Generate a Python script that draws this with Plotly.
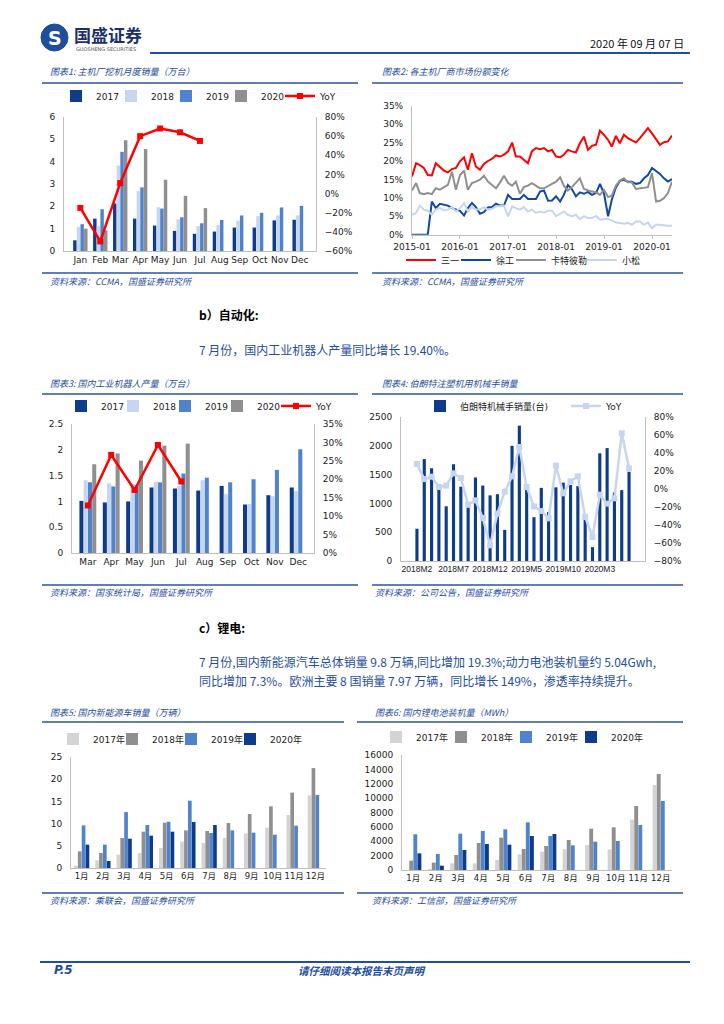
import plotly.graph_objects as go
import pandas as pd

# ---------------- data ----------------
# Chart 1: excavator monthly sales (10k units)
months_en = ["Jan", "Feb", "Mar", "Apr", "May", "Jun", "Jul", "Aug", "Sep", "Oct", "Nov", "Dec"]
exc_2017 = [0.48, 1.45, 2.13, 1.45, 1.14, 0.90, 0.77, 0.87, 1.05, 1.05, 1.37, 1.40]
exc_2018 = [1.08, 1.12, 3.84, 2.68, 1.96, 1.42, 1.12, 1.17, 1.36, 1.56, 1.59, 1.60]
exc_2019 = [1.20, 1.87, 4.44, 2.85, 1.90, 1.51, 1.24, 1.39, 1.59, 1.71, 1.95, 2.02]
exc_2020 = [1.00, 0.93, 4.96, 4.56, 3.19, 2.47, 1.92, None, None, None, None, None]
exc_yoy = [-15, -50, 11, 60, 68, 64, 55, None, None, None, None, None]

# Chart 2: market share (%) monthly 2015-01 .. 2020-06
share_dates = pd.date_range("2015-01-01", periods=66, freq="MS")
share_sany = [15.8, 19.4, 18.9, 18.1, 16.2, 16.1, 19.4, 18.5, 17.4, 16.9,
              17.8, 18.1, 19.9, 21.0, 17.6, 22.1, 18.5, 17.6, 19.2, 20.0,
              20.6, 21.5, 21.2, 21.7, 22.6, 25.0, 21.2, 21.2, 20.3, 19.4,
              22.6, 23.5, 23.2, 23.5, 22.6, 23.0, 21.2, 21.0, 21.7, 23.0,
              22.6, 22.3, 24.8, 26.6, 23.0, 24.1, 24.4, 28.2, 27.1, 25.7,
              23.9, 26.8, 24.8, 27.1, 26.2, 25.5, 25.0, 26.2, 27.5, 28.9,
              27.5, 26.0, 24.4, 25.1, 25.3, 26.9]
share_xcmg = [0, 0, 0, 0, 0, 9.0, 7.2, 8.4, 8.2, 7.9,
              7.2, 6.8, 6.5, 5.2, 7.2, 8.6, 7.5, 5.7, 6.1, 7.4,
              7.5, 8.4, 7.9, 7.9, 10.8, 9.7, 9.7, 9.7, 10.8, 9.7,
              9.7, 9.7, 11.7, 12.0, 9.2, 9.3, 10.4, 9.0, 10.8, 13.5,
              12.4, 10.4, 11.5, 11.1, 11.6, 10.8, 11.3, 13.8, 11.1, 5.0,
              9.5, 12.8, 14.6, 14.9, 14.4, 14.4, 13.8, 14.0, 15.3, 16.2,
              18.1, 17.3, 16.5, 15.3, 14.4, 15.1]
share_cat = [12.0, 14.0, 11.3, 11.0, 11.3, 11.0, 12.6, 12.2, 12.9, 13.5,
             17.1, 12.2, 16.2, 17.4, 12.2, 14.0, 14.4, 14.9, 16.0, 14.4,
             13.5, 12.6, 14.2, 16.0, 14.0, 13.3, 14.4, 11.1, 12.9, 13.3,
             14.0, 13.3, 12.6, 12.6, 13.1, 13.8, 14.4, 15.6, 13.3, 12.0,
             12.9, 14.0, 15.3, 12.4, 12.0, 11.7, 11.5, 10.8, 12.2, 10.2,
             10.6, 13.3, 14.7, 15.3, 14.2, 14.2, 12.4, 12.6, 12.9, 12.9,
             16.7, 9.0, 9.2, 9.9, 11.3, 14.4]
share_komatsu = [5.4, 5.9, 7.9, 6.8, 6.5, 5.4, 6.8, 7.2, 6.6, 6.8,
                 7.5, 6.3, 7.2, 8.6, 6.3, 7.5, 6.8, 6.9, 7.5, 6.8,
                 7.0, 7.7, 7.7, 7.9, 5.0, 7.7, 7.2, 6.8, 7.5, 6.3,
                 6.8, 5.9, 6.3, 6.0, 6.5, 6.5, 5.0, 5.7, 6.3, 5.4,
                 5.0, 5.4, 4.2, 5.0, 4.5, 4.5, 5.1, 4.1, 4.2, 4.3,
                 3.9, 3.3, 3.2, 3.0, 3.2, 2.7, 3.6, 3.6, 2.7, 3.3,
                 1.8, 2.7, 2.7, 2.5, 2.4, 2.4]

# Chart 3: industrial robot output (10k units)
rob_months = ["Mar", "Apr", "May", "Jun", "Jul", "Aug", "Sep", "Oct", "Nov", "Dec"]
rob_2017 = [1.01, 0.98, 1.00, 1.27, 1.25, 1.21, 1.30, 0.94, 1.12, 1.27]
rob_2018 = [1.41, 1.35, 1.34, 1.38, 1.30, 1.41, 1.14, 0.95, 1.10, 1.20]
rob_2019 = [1.37, 1.29, 1.32, 1.37, 1.54, 1.46, 1.37, 1.43, 1.61, 2.01]
rob_2020 = [1.72, 1.93, 1.79, 2.08, 2.12, None, None, None, None, None]
rob_yoy = [12.9, 26.6, 17.1, 29.3, 19.4, None, None, None, None, None]

# Chart 4: Borunte manipulator sales (units) and YoY
bl_months = ["2018M2", "2018M3", "2018M4", "2018M5", "2018M6", "2018M7", "2018M8", "2018M9",
             "2018M10", "2018M11", "2018M12", "2019M1", "2019M2", "2019M3", "2019M4", "2019M5",
             "2019M6", "2019M7", "2019M8", "2019M9", "2019M10", "2019M11", "2019M12", "2020M1",
             "2020M2", "2020M3", "2020M4", "2020M5", "2020M6", "2020M7"]
bl_sales = [560, 1770, 1610, 1320, 950, 1680, 1290, 930, 1450, 1310,
            1140, 1160, 540, 2000, 2350, 1330, 760, 1270, 850, 1280,
            1360, 1320, 1300, 720, 240, 1870, 1960, 1190, 1230, 1550]
bl_yoy = [27.8, 11.0, 13.7, 2.2, 3.7, 17.4, 12.2, -17.4, -12.6, -32.2,
          -62.6, -27.4, -3.0, 14.1, 46.7, 2.2, -19.3, -24.4, -32.6, 26.0,
          -4.8, 8.5, 14.1, -31.0, -53.3, -6.3, -16.3, -10.4, 61.9, 23.0]
bl_ticks = ["2018M2", "2018M7", "2018M12", "2019M5", "2019M10", "2020M3"]

# Chart 5: NEV sales (10k units)
cn_months = ["1月", "2月", "3月", "4月", "5月", "6月", "7月", "8月", "9月", "10月", "11月", "12月"]
nev_2017 = [0.53, 1.73, 3.00, 3.38, 4.50, 5.93, 5.63, 6.76, 7.80, 9.08, 11.94, 16.37]
nev_2018 = [3.75, 3.38, 6.76, 8.18, 10.20, 8.48, 8.33, 10.13, 12.16, 13.89, 16.97, 22.50]
nev_2019 = [9.60, 5.26, 12.60, 9.68, 10.43, 15.16, 7.88, 8.48, 7.96, 7.50, 9.53, 16.44]
nev_2020 = [5.26, 1.58, 6.60, 7.28, 8.18, 10.36, 9.68, None, None, None, None, None]

# Chart 6: battery installations (MWh)
bat_2017 = [0, 139, 928, 928, 1391, 2180, 2551, 2876, 3479, 2876, 7003, 11827]
bat_2018 = [1299, 1020, 2087, 3757, 4499, 2922, 3339, 4174, 5751, 5937, 8905, 13357]
bat_2019 = [4963, 2226, 5055, 5426, 5658, 6632, 4731, 3432, 3942, 4035, 6261, 9601]
bat_2020 = [2319, 603, 2783, 3618, 3525, 4731, 5009, None, None, None, None, None]

# ---------------- styling ----------------
W, H = 724, 1024
def px(x):
    return x / W
def py(y):
    return 1 - y / H

NAVY = "#0E3C8C"
LIGHT = "#C6D6EF"
MID = "#4F83CC"
GRAY = "#8F8F8F"
LGRAY = "#D3D3D3"
RED = "#FF0000"
TXTBLUE = "#1F4E9C"
LINEBLUE = "#2F5597"
AXC = "#BFBFBF"
FONT = "DejaVu Sans, Noto Sans CJK SC, sans-serif"
CJK = "Noto Sans CJK SC, DejaVu Sans, sans-serif"
TICKF = dict(family=FONT, size=9, color="#222")

fig = go.Figure()

def bar(x, y, name, color, xa, ya, leg, lw, **kw):
    fig.add_trace(go.Bar(x=x, y=y, name=name, marker=dict(color=color, line=dict(width=0)),
                         xaxis=xa, yaxis=ya, legend=leg, legendwidth=lw, **kw))

def yoy(x, y, color, xa, ya, leg):
    fig.add_trace(go.Scatter(x=x, y=y, name="YoY", mode="lines+markers",
                             line=dict(color=color, width=2.5),
                             marker=dict(symbol="square", size=6, color=color),
                             xaxis=xa, yaxis=ya, legend=leg, legendwidth=40))

# chart 1
for nm, vals, c, lw in [("2017", exc_2017, NAVY, 10), ("2018", exc_2018, LIGHT, 10),
                        ("2019", exc_2019, MID, 10), ("2020", exc_2020, GRAY, 14)]:
    bar(months_en, vals, nm, c, "x", "y", "legend", lw)
yoy(months_en, exc_yoy, RED, "x", "y2", "legend")

# chart 2
for nm, vals, c, lw in [("三一", share_sany, RED, 10), ("徐工", share_xcmg, "#0F4AA0", 10),
                        ("卡特彼勒", share_cat, GRAY, 26), ("小松", share_komatsu, LIGHT, 30)]:
    fig.add_trace(go.Scatter(x=share_dates, y=vals, name=nm, mode="lines",
                             line=dict(color=c, width=2), xaxis="x2", yaxis="y3",
                             legend="legend2", legendwidth=lw))

# chart 3
for nm, vals, c, lw in [("2017", rob_2017, NAVY, 7), ("2018", rob_2018, LIGHT, 7),
                        ("2019", rob_2019, MID, 7), ("2020", rob_2020, GRAY, 14)]:
    bar(rob_months, vals, nm, c, "x3", "y4", "legend3", lw)
yoy(rob_months, rob_yoy, RED, "x3", "y5", "legend3")

# chart 4
bar(bl_months, bl_sales, "伯朗特机械手销量(台)", NAVY, "x4", "y6", "legend4", 101, width=0.43)
yoy(bl_months, bl_yoy, LIGHT, "x4", "y7", "legend4")

# chart 5
for nm, vals, c, lw in [("2017年", nev_2017, LGRAY, 14), ("2018年", nev_2018, GRAY, 14),
                        ("2019年", nev_2019, MID, 14), ("2020年", nev_2020, NAVY, 40)]:
    bar(cn_months, vals, nm, c, "x5", "y8", "legend5", lw)

# chart 6
for nm, vals, c, lw in [("2017年", bat_2017, LGRAY, 20), ("2018年", bat_2018, GRAY, 20),
                        ("2019年", bat_2019, MID, 20), ("2020年", bat_2020, NAVY, 40)]:
    bar(cn_months, vals, nm, c, "x6", "y9", "legend6", lw)

# ---------------- axes ----------------
base = dict(showgrid=False, zeroline=False, showline=True, linecolor=AXC, linewidth=1,
            tickfont=TICKF, fixedrange=True)

def xcat(x0, x1, anchor, **kw):
    d = dict(base, domain=[px(x0), px(x1)], anchor=anchor, type="category", ticks="",
             tickangle=0)
    d.update(kw)
    return d

def yax(y0, y1, anchor, rng, dtick, **kw):
    d = dict(base, domain=[py(y1), py(y0)], anchor=anchor, range=rng, dtick=dtick,
             ticks="", ticklabelstandoff=6)
    d.update(kw)
    return d

def yright(over, anchor, rng, dtick, **kw):
    d = dict(base, overlaying=over, side="right", anchor=anchor, range=rng, dtick=dtick,
             ticks="", ticklabelstandoff=6)
    d.update(kw)
    return d

SMALLTICK = dict(family=FONT, size=8.5, color="#222")
NARROWTICK = dict(family="Liberation Sans, Arial, sans-serif", size=8.5, color="#222")

layout = dict(
    width=W, height=H, margin=dict(l=0, r=0, t=0, b=0, autoexpand=False),
    paper_bgcolor="white", plot_bgcolor="white",
    barmode="group", bargap=0.27, bargroupgap=0.05,
    showlegend=True, hovermode=False,
    font=dict(family=FONT, size=9, color="#222"),
    # chart 1
    xaxis=xcat(64, 316, "y"),
    yaxis=yax(117, 251, "x", [0, 6], 1),
    yaxis2=yright("y", "x", [-60, 80], 20, ticksuffix="%"),
    # chart 2
    xaxis2=dict(base, domain=[px(412), px(672)], anchor="y3", type="date",
                range=["2015-01-01", "2020-06-01"], dtick="M12", tick0="2015-01-01",
                tickformat="%Y-%m", ticks="outside", ticklen=3, tickcolor=AXC, tickangle=0),
    yaxis3=yax(105.7, 234.7, "x2", [0, 35], 5, ticksuffix="%"),
    # chart 3
    xaxis3=xcat(72, 314, "y4"),
    yaxis4=yax(424, 553, "x3", [0, 2.5], 0.5),
    yaxis5=yright("y4", "x3", [0, 35], 5, ticksuffix="%"),
    # chart 4
    xaxis4=xcat(401, 645, "y6", tickmode="array", tickvals=bl_ticks, ticktext=bl_ticks,
                tickfont=NARROWTICK),
    yaxis6=yax(417, 561, "x4", [0, 2500], 500),
    yaxis7=yright("y6", "x4", [-80, 80], 20, ticksuffix="%"),
    # chart 5
    xaxis5=xcat(71, 326, "y8", tickfont=SMALLTICK),
    yaxis8=yax(757, 868, "x5", [0, 25], 5),
    # chart 6
    xaxis6=xcat(402, 672, "y9", tickfont=SMALLTICK),
    yaxis9=yax(755, 870, "x6", [0, 16000], 2000, tickformat="d"),
)

def leg(x, y):
    return dict(x=px(x), y=py(y), xanchor="left", yanchor="middle", orientation="h",
                font=dict(family=FONT, size=9, color="#222"), bgcolor="rgba(0,0,0,0)",
                itemwidth=30, tracegroupgap=0, itemclick=False, itemdoubleclick=False)

layout["legend"] = leg(56, 96)
layout["legend2"] = leg(401, 260)
layout["legend3"] = leg(61, 406)
layout["legend4"] = leg(420, 406)
layout["legend5"] = leg(53, 739)
layout["legend6"] = leg(376, 737)

fig.update_layout(**layout)

# ---------------- shapes & text ----------------
shapes = []
def hline(x0, x1, y, color=LINEBLUE, width=1.5):
    shapes.append(dict(type="line", xref="paper", yref="paper", x0=px(x0), x1=px(x1),
                       y0=py(y), y1=py(y), line=dict(color=color, width=width)))

hline(150, 690, 53, TXTBLUE, 2.2)
hline(40, 690, 962, TXTBLUE, 2.2)
for (a, b) in [(42, 358), (372, 683)]:
    hline(a, b, 83); hline(a, b, 273)
    hline(a, b, 394); hline(a, b, 585)
hline(42, 344, 722); hline(42, 344, 893)
hline(357, 683, 722); hline(357, 683, 893)
# logo disk
shapes.append(dict(type="circle", xref="paper", yref="paper", x0=px(41), x1=px(68),
                   y0=py(51), y1=py(24), fillcolor=TXTBLUE, line=dict(color=TXTBLUE, width=1)))

ann = []
def txt(x, y, s, size=9, color=TXTBLUE, anchor="left", family=CJK):
    ann.append(dict(xref="paper", yref="paper", x=px(x), y=py(y), text=s, showarrow=False,
                    xanchor=anchor, yanchor="middle",
                    font=dict(family=family, size=size, color=color)))

txt(54.5, 37.5, "<b>S</b>", 19, "white", "center", "DejaVu Sans")
txt(72, 34, "<b>国盛证券</b>", 17, "#1B2F6E")
txt(74, 49, "GUOSHENG SECURITIES", 5, "#555", family="DejaVu Sans")
txt(686, 43, "2020 年 09 月 07 日", 11, "#111", "right")

titles = [
    (48, 71, "图表1: 主机厂挖机月度销量（万台）"),
    (380, 71, "图表2: 各主机厂商市场份额变化"),
    (48, 383, "图表3: 国内工业机器人产量（万台）"),
    (380, 383, "图表4: 伯朗特注塑机用机械手销量"),
    (48, 712, "图表5: 国内新能源车销量（万辆）"),
    (373, 712, "图表6: 国内锂电池装机量（MWh）"),
]
for x, y, s in titles:
    txt(x, y, "<i>" + s + "</i>", 9)

sources = [
    (48, 281, "资料来源：CCMA，国盛证券研究所"),
    (380, 281, "资料来源：CCMA，国盛证券研究所"),
    (48, 592, "资料来源：国家统计局，国盛证券研究所"),
    (373, 592, "资料来源：公司公告，国盛证券研究所"),
    (48, 900, "资料来源：乘联会，国盛证券研究所"),
    (370, 900, "资料来源：工信部，国盛证券研究所"),
]
for x, y, s in sources:
    txt(x, y, "<i>" + s + "</i>", 9)

txt(197, 314, "<b>b）自动化:</b>", 12, "#000")
txt(197, 349, "7 月份，国内工业机器人产量同比增长 19.40%。", 12, TXTBLUE)
txt(197, 627, "<b>c）锂电:</b>", 12, "#000")
txt(197, 661, "7 月份,国内新能源汽车总体销量 9.8 万辆,同比增加 19.3%;动力电池装机量约 5.04Gwh,", 12, TXTBLUE)
txt(197, 680, "同比增加 7.3%。欧洲主要 8 国销量 7.97 万辆，同比增长 149%，渗透率持续提升。", 12, TXTBLUE)

txt(52, 970, "<b><i>P.5</i></b>", 12, TXTBLUE, family="DejaVu Sans")
txt(362, 970, "<b><i>请仔细阅读本报告末页声明</i></b>", 10.5, TXTBLUE, "center")

fig.update_layout(shapes=shapes, annotations=ann)
fig.write_html("out.html", config={"displayModeBar": False},
               post_script="document.body.style.margin='0px';")
